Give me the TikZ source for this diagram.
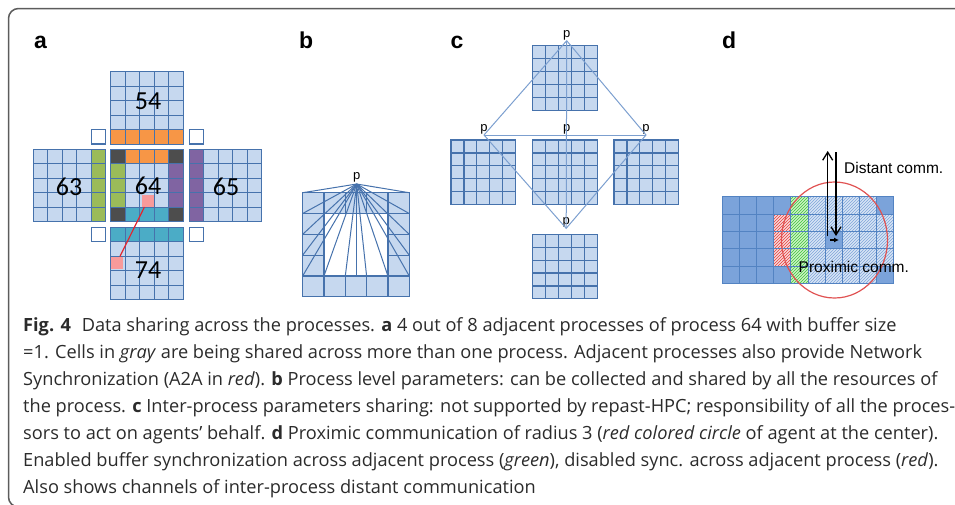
\documentclass[tikz,border=0pt]{standalone}
\usepackage{fontspec}
\setmainfont{Open Sans}
\newfontfamily\arialfont{Liberation Sans}
\newfontfamily\numfont{Carlito}
\usepackage{tikz}
\usetikzlibrary{positioning}
\usetikzlibrary{arrows.meta}
\usetikzlibrary{patterns}
\usepackage{color}

\definecolor{gridblue}{HTML}{4672AC}
\definecolor{lightcell}{HTML}{C6D8EF}
\definecolor{orangecell}{HTML}{F79646}
\definecolor{greencell}{HTML}{9BBB59}
\definecolor{purplecell}{HTML}{8064A2}
\definecolor{tealcell}{HTML}{4BACC6}
\definecolor{darkcell}{HTML}{4D4D4D}
\definecolor{pinkcell}{HTML}{F89A9A}
\definecolor{a2ared}{HTML}{E3262E}
\definecolor{linkblue}{HTML}{7C9FCF}
\definecolor{dsolid}{HTML}{7BA3DA}
\definecolor{dborder}{HTML}{5383C2}
\definecolor{hbluefill}{HTML}{D8E5F6}
\definecolor{hblueline}{HTML}{7EA4D8}
\definecolor{hredfill}{HTML}{F8DADA}
\definecolor{hredline}{HTML}{E63C3C}
\definecolor{hgreenfill}{HTML}{CDF2C4}
\definecolor{hgreenline}{HTML}{3DC23D}
\definecolor{circred}{HTML}{E05252}
\definecolor{framegray}{HTML}{5C5C5C}
\definecolor{captgray}{HTML}{2B2B2B}

\begin{document}
\begin{tikzpicture}[x=1pt,y=-1pt,
  cell/.style={draw=gridblue,line width=1.2pt,fill=lightcell},
  agent/.style={fill=pinkcell,inner sep=0pt,minimum size=12pt},
  panel/.style={anchor=base west,inner sep=0pt,font=\arialfont\bfseries\fontsize{23}{23}\selectfont},
  blocknum/.style={inner sep=0pt,font=\numfont\fontsize{26}{26}\selectfont},
  plabel/.style={inner sep=0.5pt,font=\arialfont\fontsize{13}{13}\selectfont},
  fan/.style={draw=gridblue,line width=1pt},
  link/.style={draw=linkblue,line width=1pt},
  dcell/.style={draw=dborder,line width=1pt,fill=dsolid},
  hblue/.style={draw=dborder,line width=1pt,preaction={fill=hbluefill},pattern=north east lines,pattern color=hblueline},
  hred/.style={draw=dborder,line width=1pt,preaction={fill=hredfill},pattern=north east lines,pattern color=hredline},
  hgreen/.style={draw=dborder,line width=1pt,preaction={fill=hgreenfill},pattern=north east lines,pattern color=hgreenline},
  comm/.style={line width=1.3pt},
  commtext/.style={anchor=west,inner sep=0pt,font=\arialfont\fontsize{15.5}{15.5}\selectfont},
  captext/.style={anchor=base west,inner sep=0pt,text=captgray,font=\fontsize{18.2}{20}\selectfont}]

\useasboundingbox (0,0) rectangle (955,504);

% frame
\draw[framegray,line width=1.5pt,rounded corners=10pt] (960,8.5) -- (8.5,8.5) -- (8.5,507) -- (25,507);

% ---------- a ----------
\node[panel] (la) at (34,48) {a};

\foreach \bx/\by in {110.7/71.7,33.3/149.3,110.7/149.3,189.3/149.3,110.7/227.3}
  \foreach \i in {0,...,4}
    \foreach \j in {0,...,4}
      \draw[cell] ({\bx+14.5*\i},{\by+14.5*\j}) rectangle ++(14.5,14.5);

\foreach \i in {0,...,4} {
  \draw[cell,fill=orangecell] ({110.7+14.5*\i},129.7) rectangle ++(14.5,14.5);
  \draw[cell,fill=tealcell] ({110.7+14.5*\i},227.3) rectangle ++(14.5,14.5);
  \draw[cell,fill=greencell] (91.3,{149.3+14.5*\i}) rectangle ++(14.5,14.5);
  \draw[cell,fill=purplecell] (189.3,{149.3+14.5*\i}) rectangle ++(14.5,14.5);
}
\foreach \i in {1,2,3} {
  \draw[cell,fill=orangecell] ({110.7+14.5*\i},149.3) rectangle ++(14.5,14.5);
  \draw[cell,fill=tealcell] ({110.7+14.5*\i},207.3) rectangle ++(14.5,14.5);
  \draw[cell,fill=greencell] (110.7,{149.3+14.5*\i}) rectangle ++(14.5,14.5);
  \draw[cell,fill=purplecell] (168.7,{149.3+14.5*\i}) rectangle ++(14.5,14.5);
}
\foreach \x/\y in {110.7/149.3,168.7/149.3,110.7/207.3,168.7/207.3}
  \draw[cell,fill=darkcell] (\x,\y) rectangle ++(14.5,14.5);
\foreach \x/\y in {91.5/129.7,189.5/129.7,91.5/227.3,189.5/227.3}
  \draw[cell,fill=white] (\x,\y) rectangle ++(14.2,14.2);

\node[blocknum] (n54) at (148,101.5) {54};
\node[blocknum] (n63) at (69,186.5) {63};
\node[blocknum] (n64) at (148,186) {64};
\node[blocknum] (n65) at (226,186.5) {65};
\node[blocknum] (n74) at (148,270) {74};

\node[agent] (a64) at (147.5,200.8) {};
\node[agent] (a74) at (116.8,262.8) {};
\draw[a2ared,line width=1.2pt] (a64) -- (a74);

% ---------- b ----------
\node[panel] (lb) at (299,48) {b};

\foreach \i/\j in {0/0,1/0,2/0,3/0,4/0,0/4,1/4,2/4,3/4,4/4,0/1,0/2,0/3,4/1,4/2,4/3}
  \draw[cell] ({302.7+21.3*\i},{192.7+20.8*\j}) rectangle ++(21.3,20.8);

\coordinate (pb) at (356.7,184);
\node[plabel,above=1pt of pb] (pbl) {p};
\foreach \x/\y in {302.7/192.7,409.2/192.7,
                   302.7/213.5,302.7/234.3,302.7/255.1,302.7/275.9,
                   409.2/213.5,409.2/234.3,409.2/255.1,409.2/275.9,
                   324/275.9,345.3/275.9,356.7/275.9,366.6/275.9,387.9/275.9}
  \draw[fan] (pb) -- (\x,\y);

% ---------- c ----------
\node[panel] (lc) at (450.5,48) {c};

\foreach \bx/\by in {532.7/45.7,451/140,532.7/140,614/140,532.7/234.3}
  \foreach \i in {0,...,4}
    \foreach \j in {0,...,4}
      \draw[cell] ({\bx+12.9*\i},{\by+12.9*\j}) rectangle ++(12.9,12.9);

\coordinate (ptop) at (566.7,40.7);
\coordinate (pleft) at (484,135);
\coordinate (pmid) at (566.7,135);
\coordinate (pright) at (646,135);
\coordinate (pbot) at (566.2,228.3);

\node[plabel,above=0pt of ptop] (ptopl) {p};
\node[plabel,above=0pt of pleft] (pleftl) {p};
\node[plabel,above=0pt of pmid] (pmidl) {p};
\node[plabel,above=0pt of pright] (prightl) {p};
\node[plabel,above=0pt of pbot] (pbotl) {p};

\draw[link] (ptop) -- (pleft) -- (pbot) -- (pright) -- (ptop);
\draw[link] (pleft) -- (pright);
\draw[link] (ptop) -- (pbot);

% ---------- d ----------
\node[panel] (ld) at (722,48) {d};

\foreach \i in {0,...,9}
  \foreach \j in {0,...,4}
    \draw[dcell] ({722.7+17.06*\i},{196.7+17.33*\j}) rectangle ++(17.06,17.33);
\foreach \j in {1,2,3}
  \draw[hred] ({722.7+17.06*3},{196.7+17.33*\j}) rectangle ++(17.06,17.33);
\foreach \j in {0,...,4}
  \draw[hgreen] ({722.7+17.06*4},{196.7+17.33*\j}) rectangle ++(17.06,17.33);
\foreach \i/\j in {5/0,5/1,5/2,5/3,5/4,6/0,6/1,6/3,6/4,7/0,7/1,7/2,7/3,7/4,
                   8/0,8/1,8/2,8/3,8/4,9/1,9/2,9/3}
  \draw[hblue] ({722.7+17.06*\i},{196.7+17.33*\j}) rectangle ++(17.06,17.33);

\coordinate (agent) at (834.5,240);
\draw[circred,line width=1.2pt] (agent) ellipse [x radius=53,y radius=58];

\coordinate (upfoot) at (827.7,236);
\coordinate (uptip) at (827.7,151);
\coordinate (downfoot) at (836,152);
\coordinate (downtip) at (836,236);
\coordinate (pfoot) at (830,240);
\coordinate (ptip) at (839,240);
\draw[comm,-{Straight Barb[length=8pt,width=10pt]}] (upfoot) -- (uptip);
\draw[comm,-{Straight Barb[length=8pt,width=10pt]}] (downfoot) -- (downtip);
\draw[comm,-{Latex[length=5pt,width=5pt]}] (pfoot) -- (ptip);

\node[commtext] (distl) at (844,167.5) {Distant comm.};
\node[commtext] (proxl) at (798.5,267) {Proximic comm.};

% ---------- caption ----------
\node[captext] (cap1) at (23,331) {\textbf{Fig. 4}\hspace{0.6em}Data sharing across the processes. \textbf{a} 4 out of 8 adjacent processes of process 64 with buffer size};
\node[captext] (cap2) at (23,358) {=1. Cells in \textit{gray} are being shared across more than one process. Adjacent processes also provide Network};
\node[captext] (cap3) at (23,385) {Synchronization (A2A in \textit{red}). \textbf{b} Process level parameters: can be collected and shared by all the resources of};
\node[captext] (cap4) at (23,412) {the process. \textbf{c} Inter-process parameters sharing: not supported by repast-HPC; responsibility of all the proces-};
\node[captext] (cap5) at (23,439) {sors to act on agents’ behalf. \textbf{d} Proximic communication of radius 3 (\textit{red colored circle} of agent at the center).};
\node[captext] (cap6) at (23,466) {Enabled buffer synchronization across adjacent process (\textit{green}), disabled sync. across adjacent process (\textit{red}).};
\node[captext] (cap7) at (23,493) {Also shows channels of inter-process distant communication};

\end{tikzpicture}
\end{document}
